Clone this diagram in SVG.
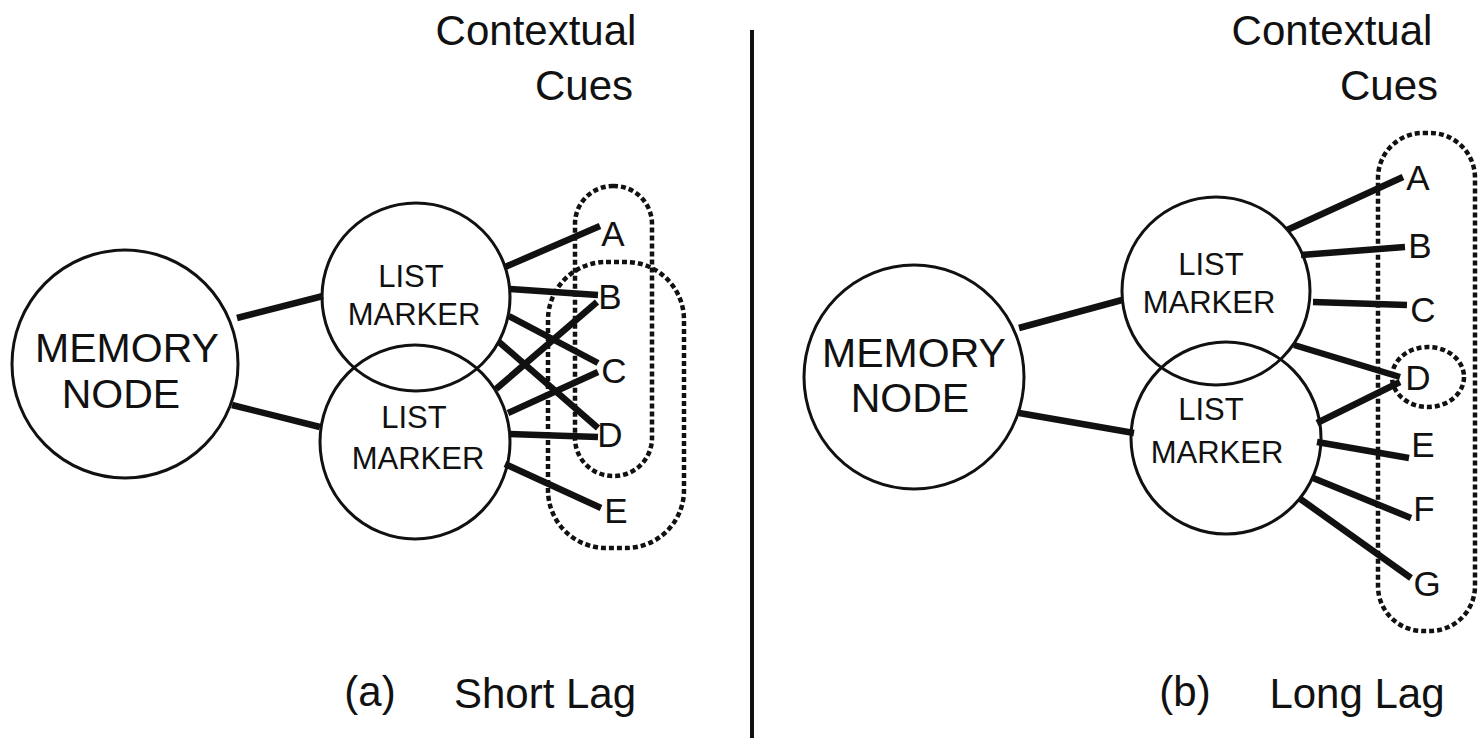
<svg xmlns="http://www.w3.org/2000/svg" width="1479" height="738" viewBox="0 0 1479 738">
<style>
.bg{fill:#fff}
.node{fill:none;stroke:#111;stroke-width:3}
.t{font-family:"Liberation Sans",Arial,sans-serif;fill:#111;text-anchor:middle}
.big{font-size:41px}
.mk{font-size:31px}
.cue{font-size:35px}
.title{font-size:42px}
.link{stroke:#111;stroke-width:6.5;stroke-linecap:butt;fill:none}
.loop{fill:none;stroke:#111;stroke-width:4.5;stroke-dasharray:5 3}
.div{stroke:#111;stroke-width:4}
</style>
<rect class="bg" x="0" y="0" width="1479" height="738"/>
<line class="div" x1="752" y1="30" x2="752" y2="738"/>

<g id="panel-a-title">
<text class="t title" x="536" y="45">Contextual</text>
<text class="t title" x="584" y="100">Cues</text>
<text class="t title" x="370" y="706">(a)</text>
<text class="t title" x="545" y="708">Short Lag</text>
</g>
<g id="panel-b-title">
<text class="t title" x="1332" y="45">Contextual</text>
<text class="t title" x="1389" y="100">Cues</text>
<text class="t title" x="1185" y="706">(b)</text>
<text class="t title" x="1357" y="708">Long Lag</text>
</g>

<g id="connectors">
<line class="link" x1="237" y1="318" x2="323" y2="296"/>
<line class="link" x1="232" y1="405" x2="320" y2="427"/>
<line class="link" x1="505" y1="267" x2="600" y2="226"/>
<line class="link" x1="510" y1="289" x2="598" y2="295"/>
<line class="link" x1="509" y1="316" x2="598" y2="363"/>
<line class="link" x1="499" y1="342" x2="598" y2="428"/>
<line class="link" x1="496" y1="389" x2="597" y2="302"/>
<line class="link" x1="508" y1="413" x2="598" y2="372"/>
<line class="link" x1="509" y1="434" x2="598" y2="437"/>
<line class="link" x1="505" y1="464" x2="601" y2="508"/>

<line class="link" x1="1019" y1="328" x2="1122" y2="300"/>
<line class="link" x1="1019" y1="413" x2="1134" y2="433"/>
<line class="link" x1="1287" y1="230" x2="1403" y2="177"/>
<line class="link" x1="1301" y1="255" x2="1405" y2="247"/>
<line class="link" x1="1313" y1="302" x2="1407" y2="305"/>
<line class="link" x1="1294" y1="345" x2="1400" y2="377"/>
<line class="link" x1="1317" y1="423" x2="1400" y2="382"/>
<line class="link" x1="1317" y1="442" x2="1409" y2="458"/>
<line class="link" x1="1313" y1="478" x2="1411" y2="518"/>
<line class="link" x1="1299" y1="498" x2="1411" y2="578"/>
</g>

<g id="memory-a">
<ellipse class="node" cx="125" cy="364" rx="113" ry="114"/>
<text class="t big" x="127" y="362">MEMORY</text>
<text class="t big" x="121" y="408">NODE</text>
</g>
<g id="marker-a1">
<ellipse class="node" cx="416" cy="297" rx="94" ry="94"/>
<text class="t mk" x="411" y="287">LIST</text>
<text class="t mk" x="414" y="325">MARKER</text>
</g>
<g id="marker-a2">
<ellipse class="node" cx="415" cy="442" rx="95" ry="97"/>
<text class="t mk" x="414" y="428">LIST</text>
<text class="t mk" x="418" y="469">MARKER</text>
</g>
<g id="cues-a">
<text class="t cue" x="613" y="246">A</text>
<text class="t cue" x="610" y="309">B</text>
<text class="t cue" x="614" y="383">C</text>
<text class="t cue" x="610" y="447">D</text>
<text class="t cue" x="616" y="523">E</text>
</g>
<g id="loops-a">
<rect class="loop" x="575" y="186" width="77" height="290" rx="38" ry="38"/>
<rect class="loop" x="548" y="262" width="136" height="286" rx="58" ry="58"/>
</g>

<g id="memory-b">
<ellipse class="node" cx="914" cy="377" rx="110" ry="112"/>
<text class="t big" x="914" y="367">MEMORY</text>
<text class="t big" x="910" y="412">NODE</text>
</g>
<g id="marker-b1">
<ellipse class="node" cx="1216" cy="291" rx="94" ry="94"/>
<text class="t mk" x="1211" y="275">LIST</text>
<text class="t mk" x="1209" y="313">MARKER</text>
</g>
<g id="marker-b2">
<ellipse class="node" cx="1226" cy="438" rx="95" ry="96"/>
<text class="t mk" x="1211" y="420">LIST</text>
<text class="t mk" x="1217" y="463">MARKER</text>
</g>
<g id="cues-b">
<text class="t cue" x="1418" y="190">A</text>
<text class="t cue" x="1420" y="258">B</text>
<text class="t cue" x="1423" y="322">C</text>
<text class="t cue" x="1418" y="390">D</text>
<text class="t cue" x="1423" y="457">E</text>
<text class="t cue" x="1424" y="521">F</text>
<text class="t cue" x="1427" y="596">G</text>
</g>
<g id="loops-b">
<rect class="loop" x="1378" y="133" width="97" height="498" rx="45" ry="45"/>
<ellipse class="loop" cx="1428" cy="377" rx="36" ry="30"/>
</g>
</svg>
